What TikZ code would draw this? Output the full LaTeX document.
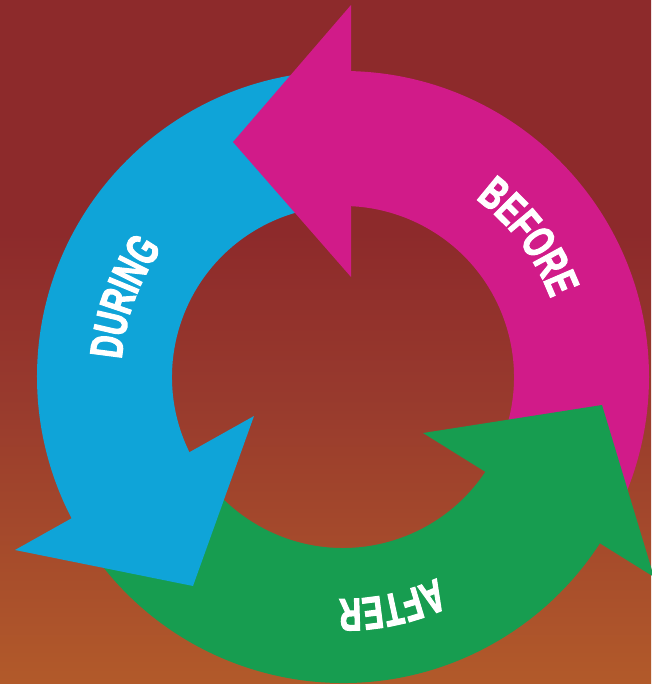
\documentclass[tikz,border=0pt]{standalone}
\usepackage{fontspec}
\newfontfamily\labfont{Liberation Sans}[UprightFont={* Bold}, BoldFont={* Bold}, FakeStretch=0.66, FakeBold=2.2]
\usetikzlibrary{decorations.text}
\definecolor{mag}{RGB}{209,27,137}
\definecolor{blu}{RGB}{15,164,216}
\definecolor{grn}{RGB}{23,157,80}
\definecolor{bgtop}{RGB}{141,42,43}
\definecolor{bgmid}{RGB}{152,58,45}
\definecolor{bgbot}{RGB}{178,90,42}
\pgfdeclareverticalshading{bgshade}{100bp}{color(0bp)=(bgbot); color(25bp)=(bgbot); color(46bp)=(bgmid); color(58bp)=(bgtop); color(100bp)=(bgtop)}
\tikzset{
  lbl/.style={decorate, decoration={text along path, text align=center, text color=white, text={|\labfont\fontsize{46}{46}\selectfont|#1}}}
}
\begin{document}
\begin{tikzpicture}[x=1pt,y=1pt]
\useasboundingbox (-343,-307) rectangle (308,377);
\shade[shading=bgshade] (-343,-307) rectangle (308,377);
% ring bodies
\fill[mag] (90:306) arc[start angle=90,end angle=-28,radius=306] -- (-28:171) arc[start angle=-28,end angle=90,radius=171] -- cycle;
\fill[blu] (92:306) arc[start angle=92,end angle=210,radius=306] -- (210:171) arc[start angle=210,end angle=92,radius=171] -- cycle;
\fill[grn] (212:306) arc[start angle=212,end angle=330,radius=306] -- (330:171) arc[start angle=330,end angle=212,radius=171] -- cycle;
% arrow heads
\fill[mag] (8,372) -- (8,100) -- (-110,235) -- cycle;
\fill[blu] (-328,-173) -- (-89,-39) -- (-150,-209) -- cycle;
\fill[grn] (80,-56) -- (311,-200) -- (259,-28) -- cycle;
% labels
\path[lbl=BEFORE] (60:222) arc[start angle=60,end angle=14,radius=222];
\path[lbl=DURING] (186:222) arc[start angle=186,end angle=134,radius=222];
\path[lbl=AFTER] (-55:222) arc[start angle=-55,end angle=-101,radius=222];
\end{tikzpicture}
\end{document}
